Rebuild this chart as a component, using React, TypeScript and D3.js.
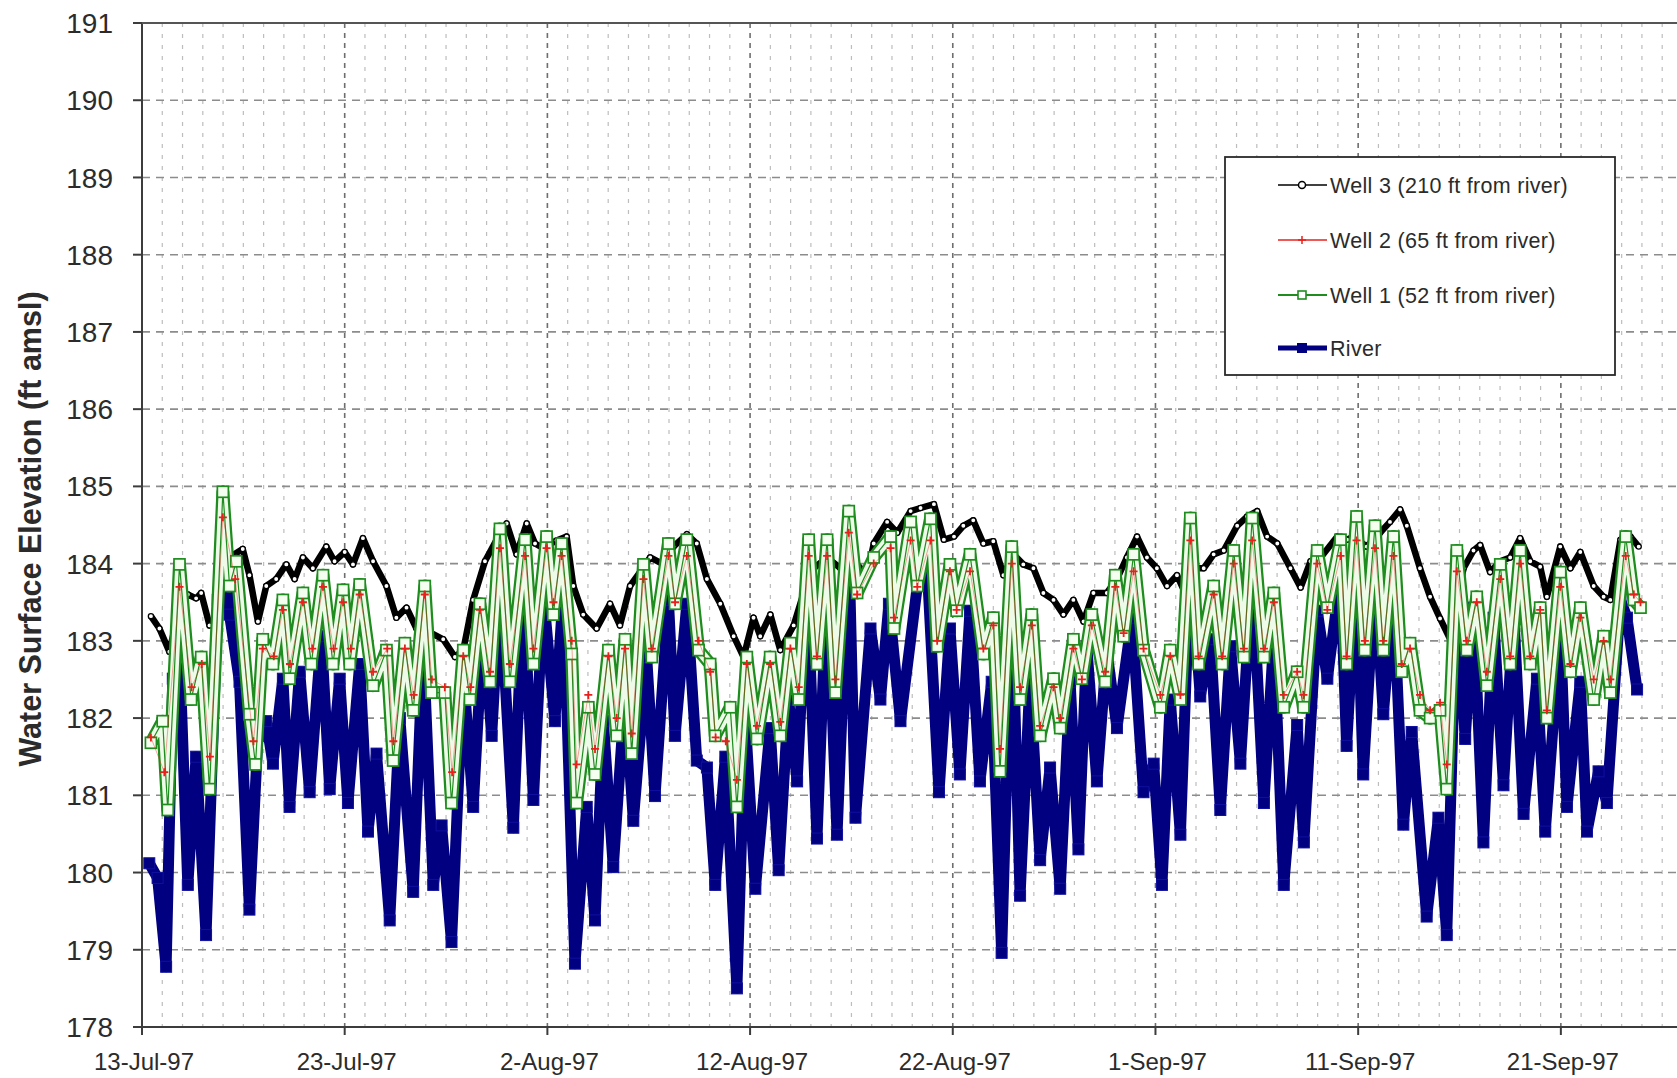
import { useEffect, useRef } from 'react';
import * as d3 from 'd3';

// [days after 13-Jul-97, water surface elevation (ft amsl)]
type Pt = [number, number];

const startDate = new Date(1997, 6, 13);
const tickDays = [0, 10, 20, 30, 40, 50, 60, 70];
const yTicks = [178, 179, 180, 181, 182, 183, 184, 185, 186, 187, 188, 189, 190, 191];

const seriesNames = ['Well 3 (210 ft from river)', 'Well 2 (65 ft from river)', 'Well 1 (52 ft from river)', 'River'];

const well3: Pt[] = [
  [0.44, 183.32], [0.86, 183.16], [1.35, 182.86], [1.85, 183.43], [2.26, 183.6], [2.67, 183.55], [2.92, 183.62],
  [3.33, 183.2], [3.74, 183.25], [4.3, 184.08], [4.97, 184.19], [5.3, 183.85], [5.72, 183.25], [6.13, 183.71],
  [6.62, 183.8], [7.12, 183.99], [7.53, 183.8], [7.94, 184.08], [8.43, 183.94], [9.09, 184.22], [9.5, 184.03],
  [10.0, 184.15], [10.41, 183.99], [10.9, 184.33], [11.4, 184.03], [12.06, 183.71], [12.55, 183.3], [13.05, 183.43],
  [13.54, 183.16], [14.2, 183.11], [14.86, 183.02], [15.44, 182.79], [15.85, 182.88], [16.34, 183.53], [16.92, 184.03],
  [17.5, 184.31], [17.99, 184.52], [18.48, 184.12], [18.98, 184.52], [19.39, 184.26], [19.8, 184.2], [20.45, 184.3],
  [20.95, 184.35], [21.28, 183.71], [21.77, 183.34], [22.43, 183.16], [23.09, 183.48], [23.58, 183.2], [24.08, 183.71],
  [24.57, 183.89], [25.07, 184.08], [25.73, 183.99], [26.22, 184.22], [26.88, 184.38], [27.37, 184.26], [27.87, 183.8],
  [28.53, 183.48], [29.19, 183.06], [29.68, 182.79], [30.17, 183.3], [30.5, 183.06], [31.0, 183.34], [31.49, 182.88],
  [32.15, 183.2], [32.64, 183.62], [33.14, 183.94], [33.8, 184.08], [34.46, 183.94], [35.12, 184.03], [35.78, 183.85],
  [36.1, 184.26], [36.76, 184.54], [37.26, 184.4], [37.92, 184.68], [38.41, 184.72], [39.07, 184.77], [39.56, 184.31],
  [40.06, 184.35], [40.52, 184.49], [41.01, 184.56], [41.51, 184.26], [42.0, 184.29], [42.5, 183.85], [42.99, 184.12],
  [43.48, 183.99], [43.98, 183.94], [44.47, 183.62], [44.97, 183.53], [45.46, 183.34], [45.95, 183.53], [46.45, 183.25],
  [46.94, 183.62], [47.6, 183.62], [48.1, 183.8], [48.59, 184.08], [49.09, 184.35], [49.58, 184.08], [50.07, 183.94],
  [50.57, 183.71], [51.06, 183.85], [51.39, 183.66], [51.88, 183.94], [52.38, 183.94], [52.87, 184.12], [53.37, 184.17],
  [54.03, 184.49], [54.52, 184.61], [55.02, 184.68], [55.51, 184.35], [56.01, 184.26], [56.66, 183.94], [57.16, 183.69],
  [57.65, 184.03], [58.15, 184.08], [58.97, 184.35], [59.46, 184.31], [59.76, 184.35], [60.42, 184.22], [61.08, 184.4],
  [61.57, 184.54], [62.07, 184.7], [62.4, 184.49], [63.05, 183.94], [63.55, 183.57], [64.04, 183.29], [64.54, 183.02],
  [65.2, 183.94], [65.69, 184.17], [66.02, 184.24], [66.51, 183.89], [67.01, 184.03], [67.5, 184.08], [67.99, 184.33],
  [68.49, 184.03], [68.98, 183.96], [69.31, 183.57], [69.97, 184.22], [70.47, 183.94], [70.96, 184.15], [71.62, 183.71],
  [72.11, 183.57], [72.44, 183.53], [72.94, 184.31], [73.43, 184.35], [73.84, 184.22],
];

const well2: Pt[] = [
  [0.44, 181.75], [1.1, 181.3], [1.85, 183.7], [2.45, 182.4], [2.95, 182.7], [3.35, 181.5], [3.99, 184.6], [4.6, 183.8],
  [5.5, 181.7], [5.96, 182.9], [6.5, 182.8], [6.95, 183.4], [7.3, 182.7], [7.94, 183.5], [8.4, 182.9], [8.93, 183.7],
  [9.45, 182.9], [9.92, 183.5], [10.3, 182.9], [10.74, 183.6], [11.4, 182.6], [12.1, 182.9], [12.4, 181.7], [12.97, 182.9],
  [13.4, 182.3], [13.95, 183.6], [14.3, 182.5], [14.94, 182.4], [15.3, 181.3], [15.85, 182.8], [16.2, 182.4], [16.67, 183.4],
  [17.17, 182.6], [17.66, 184.2], [18.15, 182.7], [18.9, 184.1], [19.31, 182.9], [19.96, 184.2], [20.3, 183.5], [20.7, 184.1],
  [21.2, 183.0], [21.44, 181.4], [22.02, 182.3], [22.35, 181.6], [23.01, 182.8], [23.42, 182.0], [23.83, 182.9], [24.16, 181.8],
  [24.74, 183.8], [25.15, 182.9], [25.97, 184.1], [26.3, 183.5], [26.88, 184.1], [27.46, 183.0], [28.03, 182.6], [28.3, 181.75],
  [28.8, 181.7], [29.35, 181.2], [29.84, 182.7], [30.34, 181.9], [30.99, 182.7], [31.49, 181.95], [31.99, 182.9], [32.4, 182.4],
  [32.89, 184.1], [33.3, 182.8], [33.8, 184.1], [34.21, 182.5], [34.87, 184.4], [35.28, 183.6], [36.1, 184.0], [36.93, 184.2],
  [37.1, 183.3], [37.92, 184.3], [38.25, 183.7], [38.9, 184.3], [39.23, 183.0], [39.86, 183.9], [40.19, 183.4], [40.85, 183.9],
  [41.51, 182.9], [42.0, 183.2], [42.33, 181.6], [42.91, 184.0], [43.32, 182.4], [43.9, 183.2], [44.31, 181.9], [44.97, 182.4],
  [45.3, 182.0], [45.95, 182.9], [46.37, 182.5], [46.86, 183.2], [47.52, 182.6], [48.02, 183.7], [48.43, 183.1], [48.92, 183.9],
  [49.41, 182.9], [50.24, 182.3], [50.73, 182.8], [51.23, 182.3], [51.72, 184.3], [52.13, 182.8], [52.87, 183.6], [53.29, 182.8],
  [53.86, 184.0], [54.36, 182.9], [54.77, 184.3], [55.35, 182.9], [55.84, 183.5], [56.33, 182.3], [56.99, 182.6], [57.3, 182.3],
  [57.98, 184.0], [58.48, 183.4], [59.13, 184.1], [59.43, 182.8], [59.92, 184.3], [60.33, 183.0], [60.83, 184.2], [61.24, 183.0],
  [61.74, 184.1], [62.15, 182.7], [62.56, 182.9], [63.05, 182.3], [63.55, 182.1], [64.04, 182.2], [64.37, 181.4], [64.87, 183.9],
  [65.36, 183.0], [65.85, 183.5], [66.35, 182.6], [67.01, 183.8], [67.5, 182.8], [67.99, 184.0], [68.49, 182.8], [68.98, 183.4],
  [69.31, 182.1], [69.97, 183.7], [70.47, 182.7], [70.96, 183.3], [71.62, 182.5], [72.11, 183.0], [72.44, 182.5], [73.2, 184.1],
  [73.6, 183.6], [73.93, 183.5],
];

const well1: Pt[] = [
  [0.44, 181.68], [1.02, 181.96], [1.27, 180.81], [1.85, 183.99], [2.42, 182.24], [2.92, 182.79], [3.33, 181.08], [3.99, 184.93],
  [4.32, 183.71], [4.65, 184.03], [5.3, 182.05], [5.6, 181.4], [5.96, 183.02], [6.46, 182.7], [6.95, 183.53], [7.28, 182.51],
  [7.94, 183.62], [8.35, 182.7], [8.93, 183.85], [9.42, 182.7], [9.92, 183.66], [10.25, 182.7], [10.74, 183.73], [11.4, 182.42],
  [12.06, 182.88], [12.39, 181.45], [12.97, 182.97], [13.38, 182.1], [13.95, 183.71], [14.28, 182.33], [14.94, 182.33], [15.27, 180.9],
  [15.85, 182.88], [16.18, 182.24], [16.67, 183.48], [17.17, 182.47], [17.66, 184.45], [18.15, 182.47], [18.9, 184.31], [19.31, 182.7],
  [19.96, 184.35], [20.29, 183.34], [20.7, 184.26], [21.2, 182.83], [21.44, 180.9], [22.02, 182.14], [22.35, 181.27], [23.01, 182.88],
  [23.42, 181.77], [23.83, 183.02], [24.16, 181.54], [24.74, 183.99], [25.15, 182.79], [25.97, 184.26], [26.3, 183.48], [26.88, 184.31],
  [27.46, 182.88], [28.03, 182.7], [28.28, 181.77], [29.02, 182.14], [29.35, 180.85], [29.84, 182.79], [30.34, 181.73], [30.99, 182.79],
  [31.49, 181.77], [31.99, 182.97], [32.4, 182.24], [32.89, 184.31], [33.3, 182.7], [33.8, 184.31], [34.21, 182.33], [34.87, 184.68],
  [35.28, 183.62], [36.1, 184.08], [36.93, 184.35], [37.1, 183.16], [37.92, 184.54], [38.25, 183.71], [38.9, 184.58], [39.23, 182.93],
  [39.86, 183.99], [40.19, 183.39], [40.85, 184.12], [41.51, 182.83], [42.0, 183.3], [42.33, 181.31], [42.91, 184.22], [43.32, 182.24],
  [43.9, 183.34], [44.31, 181.77], [44.97, 182.51], [45.3, 181.87], [45.95, 183.02], [46.37, 182.51], [46.86, 183.34], [47.52, 182.47],
  [48.02, 183.85], [48.43, 183.06], [48.92, 184.12], [49.41, 182.88], [50.24, 182.14], [50.73, 182.88], [51.23, 182.24], [51.72, 184.59],
  [52.13, 182.7], [52.87, 183.71], [53.29, 182.7], [53.86, 184.17], [54.36, 182.79], [54.77, 184.59], [55.35, 182.79], [55.84, 183.62],
  [56.33, 182.14], [56.99, 182.6], [57.3, 182.14], [57.98, 184.17], [58.48, 183.43], [59.13, 184.31], [59.43, 182.7], [59.92, 184.61],
  [60.33, 182.88], [60.83, 184.49], [61.24, 182.88], [61.74, 184.35], [62.15, 182.6], [62.56, 182.97], [63.05, 182.1], [63.55, 182.0],
  [64.04, 182.1], [64.37, 181.08], [64.87, 184.17], [65.36, 182.88], [65.85, 183.57], [66.35, 182.42], [67.01, 183.99], [67.5, 182.7],
  [67.99, 184.17], [68.49, 182.7], [68.98, 183.43], [69.31, 182.0], [69.97, 183.89], [70.47, 182.6], [70.96, 183.43], [71.62, 182.24],
  [72.11, 183.06], [72.44, 182.33], [73.2, 184.35], [73.6, 183.53], [73.93, 183.43],
];

const river: Pt[] = [
  [0.36, 180.12], [0.77, 179.93], [1.19, 178.78], [1.52, 182.51], [1.85, 182.88], [2.26, 179.84], [2.67, 181.5], [3.16, 179.19],
  [3.74, 183.53], [3.99, 184.49], [4.32, 183.34], [4.81, 182.47], [5.3, 179.52], [5.72, 181.77], [6.13, 181.96], [6.46, 181.41],
  [6.95, 182.51], [7.28, 180.85], [7.78, 182.6], [8.27, 181.04], [8.85, 183.06], [9.26, 181.08], [9.75, 182.51], [10.16, 180.9],
  [10.74, 182.7], [11.15, 180.53], [11.57, 181.54], [12.22, 179.38], [12.72, 182.0], [13.38, 179.75], [13.87, 182.97], [14.37, 179.84],
  [14.78, 180.61], [15.27, 179.1], [15.85, 182.6], [16.34, 180.85], [16.84, 183.25], [17.25, 181.77], [17.66, 183.71], [18.32, 180.58],
  [18.81, 183.71], [19.31, 180.94], [19.8, 183.62], [20.37, 181.96], [20.78, 183.62], [21.36, 178.82], [21.94, 180.85], [22.35, 179.38],
  [22.76, 181.96], [23.25, 180.07], [23.83, 182.33], [24.24, 180.67], [24.9, 182.79], [25.31, 180.99], [25.97, 183.53], [26.3, 181.77],
  [26.88, 183.48], [27.37, 181.45], [27.87, 181.36], [28.28, 179.84], [28.78, 181.5], [29.35, 178.5], [29.76, 182.0], [30.26, 179.79],
  [30.99, 181.87], [31.41, 180.03], [31.9, 182.24], [32.32, 181.18], [32.81, 183.8], [33.3, 180.44], [33.8, 183.85], [34.29, 180.49],
  [34.87, 184.26], [35.2, 180.71], [35.94, 183.16], [36.43, 182.24], [36.85, 183.48], [37.42, 181.96], [38.25, 183.71], [38.74, 183.94],
  [39.32, 181.04], [39.86, 183.16], [40.35, 181.27], [40.85, 183.39], [41.34, 181.18], [41.92, 182.47], [42.41, 178.96], [42.91, 183.62],
  [43.32, 179.7], [43.81, 182.51], [44.31, 180.16], [44.8, 181.36], [45.3, 179.79], [45.79, 182.47], [46.2, 180.3], [46.61, 182.93],
  [47.11, 181.18], [47.6, 182.88], [48.1, 181.87], [48.84, 183.3], [49.41, 181.04], [49.91, 181.41], [50.32, 179.84], [50.73, 182.24],
  [51.23, 180.49], [51.72, 184.08], [52.21, 182.28], [52.71, 183.02], [53.2, 180.81], [53.7, 182.93], [54.19, 181.41], [54.77, 183.89],
  [55.35, 180.9], [55.84, 183.06], [56.33, 179.84], [56.99, 181.91], [57.32, 180.39], [57.98, 183.39], [58.48, 182.51], [59.13, 183.85],
  [59.43, 181.64], [59.92, 183.94], [60.25, 181.27], [60.83, 183.85], [61.24, 182.05], [61.74, 183.62], [62.23, 180.62], [62.64, 181.82],
  [63.38, 179.43], [63.96, 180.71], [64.37, 179.19], [64.87, 183.71], [65.28, 181.73], [65.69, 183.43], [66.18, 180.39], [66.68, 183.3],
  [67.17, 181.13], [67.67, 183.39], [68.16, 180.76], [68.82, 182.51], [69.23, 180.53], [69.97, 183.16], [70.3, 180.85], [70.96, 182.47],
  [71.29, 180.53], [71.86, 181.31], [72.27, 180.9], [72.94, 183.53], [73.26, 183.3], [73.76, 182.37],
];

const FONT = "'Liberation Sans', Arial, sans-serif";
const TEXT = '#2b2b2b';
const NAVY = '#000080';
const GREEN = '#1e8c1e';
const RED = '#e8201c';

export default function App() {
  const svgRef = useRef<SVGSVGElement>(null);

  useEffect(() => {
    if (!svgRef.current) return;
    const svg = d3.select(svgRef.current);
    svg.selectAll('*').remove();

    const width = 1677;
    const height = 1078;
    const left = 142;
    const top = 23;
    const bottom = 1027;
    const dayMs = 864e5;
    const toDate = (d: number) => new Date(startDate.getTime() + d * dayMs);
    const endDate = toDate(75.73);

    const x = d3.scaleTime().domain([startDate, endDate]).range([left, width]);
    const y = d3.scaleLinear().domain([178, 191]).range([bottom, top]);

    svg.attr('width', width).attr('height', height).style('font-family', FONT);
    svg.append('rect').attr('width', width).attr('height', height).attr('fill', '#fff');

    // daily vertical grid, darker every 10 days
    const days = d3.timeDay.range(d3.timeDay.offset(startDate, 1), endDate);
    const isMajor = (d: Date) => Math.round((d.getTime() - startDate.getTime()) / dayMs) % 10 === 0;
    svg.append('g')
      .selectAll('line')
      .data(days)
      .join('line')
      .attr('x1', (d) => x(d))
      .attr('x2', (d) => x(d))
      .attr('y1', top)
      .attr('y2', bottom)
      .attr('stroke', (d) => (isMajor(d) ? '#6e6e6e' : '#bdbdbd'))
      .attr('stroke-width', (d) => (isMajor(d) ? 1.6 : 1.2))
      .attr('stroke-dasharray', (d) => (isMajor(d) ? '5,5' : '4,7'));

    // horizontal grid
    svg.append('g')
      .selectAll('line')
      .data(yTicks.filter((t) => t > 178 && t < 191))
      .join('line')
      .attr('x1', left)
      .attr('x2', width)
      .attr('y1', (d) => y(d))
      .attr('y2', (d) => y(d))
      .attr('stroke', '#8c8c8c')
      .attr('stroke-width', 1.6)
      .attr('stroke-dasharray', '8,6');

    const line = d3
      .line<Pt>()
      .x((d) => x(toDate(d[0])))
      .y((d) => y(d[1]));

    const plot = svg.append('g');

    // Well 3
    plot.append('path').datum(well3).attr('d', line).attr('fill', 'none')
      .attr('stroke', '#000').attr('stroke-width', 6.5).attr('stroke-linejoin', 'round');
    plot.append('g').selectAll('circle').data(well3).join('circle')
      .attr('cx', (d) => x(toDate(d[0]))).attr('cy', (d) => y(d[1])).attr('r', 2.6)
      .attr('fill', '#fff').attr('stroke', '#000').attr('stroke-width', 1.3);

    // River
    plot.append('path').datum(river).attr('d', line).attr('fill', 'none')
      .attr('stroke', NAVY).attr('stroke-width', 11).attr('stroke-linejoin', 'round');
    plot.append('g').selectAll('rect').data(river).join('rect')
      .attr('x', (d) => x(toDate(d[0])) - 5.5).attr('y', (d) => y(d[1]) - 5.5)
      .attr('width', 11).attr('height', 11).attr('fill', NAVY).attr('stroke', '#1010a0').attr('stroke-width', 1);

    // Well 1 (chain of hollow squares)
    plot.append('path').datum(well1).attr('d', line).attr('fill', 'none')
      .attr('stroke', GREEN).attr('stroke-width', 13).attr('stroke-linejoin', 'round');
    plot.append('path').datum(well1).attr('d', line).attr('fill', 'none')
      .attr('stroke', '#eefbe8').attr('stroke-width', 8.5).attr('stroke-linejoin', 'round');
    plot.append('path').datum(well1).attr('d', line).attr('fill', 'none')
      .attr('stroke', GREEN).attr('stroke-width', 1.2);
    plot.append('g').selectAll('rect').data(well1).join('rect')
      .attr('x', (d) => x(toDate(d[0])) - 5.5).attr('y', (d) => y(d[1]) - 5.5)
      .attr('width', 11).attr('height', 11).attr('fill', '#f4fff0').attr('stroke', GREEN).attr('stroke-width', 1.7);

    // Well 2
    plot.append('path').datum(well2).attr('d', line).attr('fill', 'none')
      .attr('stroke', RED).attr('stroke-width', 0.8).attr('stroke-opacity', 0.5);
    plot.append('g').selectAll('path').data(well2).join('path')
      .attr('d', (d) => {
        const cx = x(toDate(d[0]));
        const cy = y(d[1]);
        return `M${cx - 4},${cy}H${cx + 4}M${cx},${cy - 4}V${cy + 4}`;
      })
      .attr('stroke', RED).attr('stroke-width', 1.8);

    // axes
    const axisColor = '#3c3c3c';
    svg.append('line').attr('x1', left).attr('x2', left).attr('y1', top).attr('y2', bottom + 1)
      .attr('stroke', axisColor).attr('stroke-width', 2);
    svg.append('line').attr('x1', left - 1).attr('x2', width).attr('y1', bottom).attr('y2', bottom)
      .attr('stroke', axisColor).attr('stroke-width', 2);
    svg.append('line').attr('x1', left - 9).attr('x2', width).attr('y1', top).attr('y2', top)
      .attr('stroke', '#555').attr('stroke-width', 2);

    const yAxis = svg.append('g');
    yAxis.selectAll('line').data(yTicks).join('line')
      .attr('x1', left - 9).attr('x2', left).attr('y1', (d) => y(d)).attr('y2', (d) => y(d))
      .attr('stroke', axisColor).attr('stroke-width', 2);
    yAxis.selectAll('text').data(yTicks).join('text')
      .attr('x', 113).attr('y', (d) => y(d)).attr('dy', '0.36em')
      .attr('text-anchor', 'end').attr('font-size', 28).attr('fill', TEXT)
      .text((d) => String(d));

    const tickDates = tickDays.map((d) => d3.timeDay.offset(startDate, d));
    const fmt = d3.timeFormat('%-d-%b-%y');
    const xAxis = svg.append('g');
    xAxis.selectAll('line').data(tickDates).join('line')
      .attr('x1', (d) => x(d)).attr('x2', (d) => x(d)).attr('y1', bottom).attr('y2', bottom + 8)
      .attr('stroke', axisColor).attr('stroke-width', 2);
    xAxis.selectAll('text').data(tickDates).join('text')
      .attr('x', (d) => x(d) + 2).attr('y', 1070)
      .attr('text-anchor', 'middle').attr('font-size', 24).attr('fill', TEXT)
      .text((d) => fmt(d));

    svg.append('text')
      .attr('transform', `translate(41,${(top + bottom) / 2 + 4}) rotate(-90)`)
      .attr('text-anchor', 'middle').attr('font-size', 30.5).attr('font-weight', 'bold').attr('fill', TEXT)
      .text('Water Surface Elevation (ft amsl)');

    // legend
    const lg = svg.append('g');
    lg.append('rect').attr('x', 1225).attr('y', 157).attr('width', 390).attr('height', 218)
      .attr('fill', '#fff').attr('stroke', '#2a2a2a').attr('stroke-width', 1.8);
    const rowY = [185, 240, 295, 348];
    const colors = ['#000', RED, GREEN, NAVY];
    const widths = [1.6, 1.6, 1.8, 5];
    seriesNames.forEach((name, i) => {
      const cy = rowY[i];
      lg.append('line').attr('x1', 1278).attr('x2', 1327).attr('y1', cy).attr('y2', cy)
        .attr('stroke', colors[i]).attr('stroke-width', widths[i]);
      if (i === 0) {
        lg.append('circle').attr('cx', 1302).attr('cy', cy).attr('r', 3.5)
          .attr('fill', '#fff').attr('stroke', '#000').attr('stroke-width', 1.5);
      } else if (i === 1) {
        lg.append('path').attr('d', `M1298,${cy}H1306M1302,${cy - 4}V${cy + 4}`)
          .attr('stroke', RED).attr('stroke-width', 1.5);
      } else if (i === 2) {
        lg.append('rect').attr('x', 1298).attr('y', cy - 4).attr('width', 8).attr('height', 8)
          .attr('fill', '#fff').attr('stroke', GREEN).attr('stroke-width', 1.6);
      } else {
        lg.append('rect').attr('x', 1297).attr('y', cy - 5).attr('width', 10).attr('height', 10)
          .attr('fill', NAVY);
      }
      lg.append('text').attr('x', 1330).attr('y', cy).attr('dy', '0.36em')
        .attr('font-size', 21.5).attr('fill', TEXT).attr('letter-spacing', 0.3)
        .text(name);
    });
  }, []);

  return (
    <div style={{ position: 'absolute', left: 0, top: 0 }}>
      <svg ref={svgRef} style={{ display: 'block' }} />
    </div>
  );
}
